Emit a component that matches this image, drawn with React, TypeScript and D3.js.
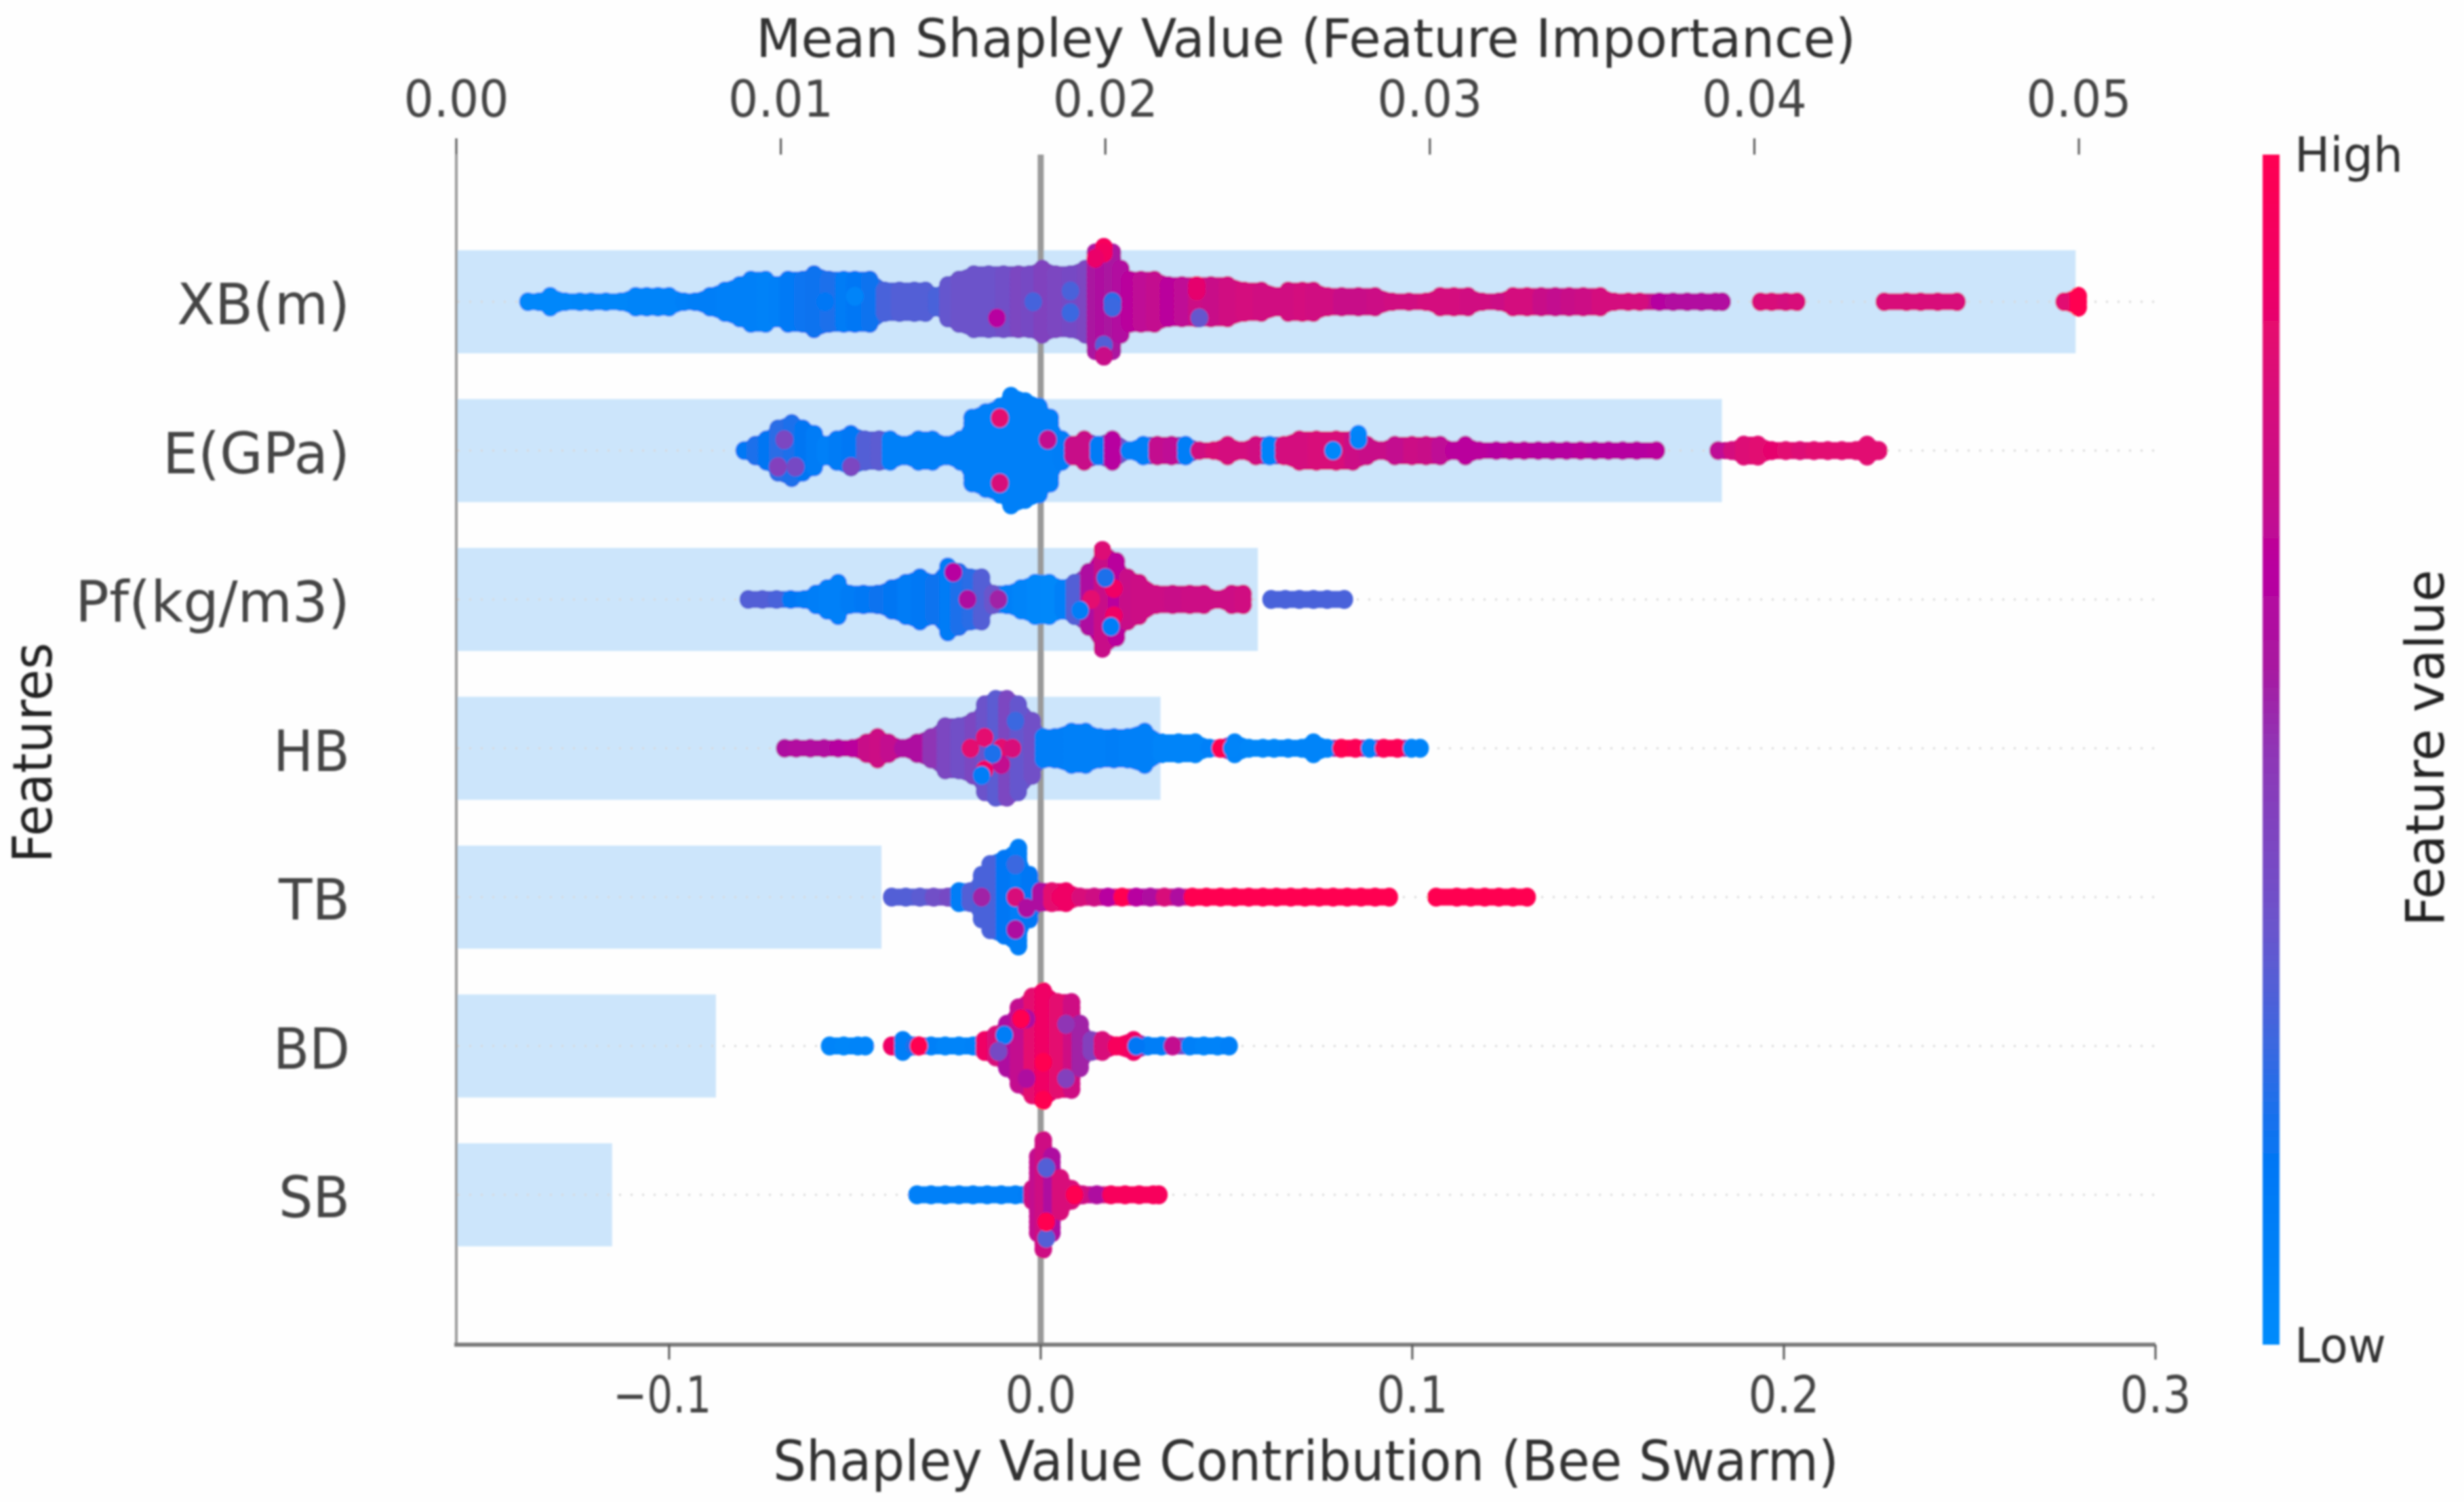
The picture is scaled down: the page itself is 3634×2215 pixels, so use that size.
import React from "react";
import * as d3 from "d3";

// Each swarm column: [Shapley value, dots stacked each side of the row, feature value 0..1]
const xbColumns = [
[-.138,0,.03],[-.135,0,.03],[-.132,1,.03],[-.128,0,.03],[-.124,0,.04],[-.121,0,.04],[-.117,0,.04],[-.113,0,.04],[-.109,1,.05],[-.106,1,.05],[-.103,1,.05],[-.1,1,.06],[-.096,0,.08],[-.093,0,.1],[-.089,1,.1],[-.085,2,.08],[-.081,3,.08],[-.078,4,.08],[-.074,4,.07],[-.071,3,.08],[-.068,4,.13],[-.064,4,.17],[-.061,5,.18],[-.057,4,.2],[-.053,4,.12],[-.05,4,.15],[-.046,4,.18],[-.042,2,.28],[-.038,2,.3],[-.034,2,.3],[-.031,2,.3],[-.028,1,.28],[-.025,3,.34],[-.022,4,.36],[-.018,5,.36],[-.014,5,.36],[-.01,5,.38],[-.006,5,.42],[-.003,5,.4],[.0004,6,.44],[.004,5,.42],[.008,5,.4],[.012,6,.42],[.0147,9,.58],[.017,10,.6],[.0193,9,.58],[.0216,6,.62],[.024,4,.66],[.027,4,.68],[.0306,4,.7],[.0344,3,.66],[.038,3,.68],[.042,3,.74],[.0458,3,.72],[.0503,3,.76],[.0548,2,.78],[.0594,2,.76],[.064,1,.76],[.0666,2,.76],[.0704,2,.78],[.0734,2,.76],[.0772,1,.76],[.081,1,.72],[.0855,1,.72],[.09,1,.74],[.0946,0,.76],[.0991,0,.76],[.1037,0,.78],[.1075,1,.78],[.1112,1,.78],[.115,1,.76],[.1188,0,.76],[.1233,0,.74],[.1271,1,.78],[.1309,1,.78],[.1347,1,.72],[.1385,1,.7],[.1422,1,.72],[.146,1,.74],[.1506,1,.78],[.1543,0,.78],[.1581,0,.78],[.1612,0,.78],
[.1665,0,.64],[.1702,0,.62],[.174,0,.62],[.1778,0,.62],[.1816,0,.62],[.1834,0,.62],
[.1937,0,.8],[.1967,0,.8],[.2005,0,.78],[.2035,0,.8],
[.227,0,.8],[.233,0,.8],[.2368,0,.8],[.2414,0,.8],[.2466,0,.8],
[.2754,0,.84],[.2792,1,1],
];
const xbAccents = [[.017,10,.95],[.017,9,.92],[.0147,8,.88],[.0193,0,.22],[.0193,-1,.25],[.008,2,.28],[.008,-2,.25],[-.002,0,.27],[-.0118,-3,.65],[.042,3,.86],[.042,2,.86],[.0427,-3,.34],[.017,-8,.3],[.017,-10,.72],[-.058,0,.15],[-.05,1,.05]];

const eColumns = [
[-.0798,0,.14],[-.0768,1,.2],[-.0738,2,.16],[-.0707,4,.22],[-.067,5,.2],[-.064,4,.16],[-.0609,3,.12],[-.0579,1,.08],[-.0549,2,.12],[-.0511,3,.14],[-.0473,2,.3],[-.0435,2,.32],[-.0405,2,.08],[-.0367,1,.08],[-.0329,2,.08],[-.0291,2,.08],[-.0254,1,.08],[-.0216,2,.08],[-.0185,6,.08],[-.0148,7,.08],[-.011,8,.08],[-.008,10,.08],[-.0042,9,.08],[-.0004,8,.08],[.0026,6,.08],[.0057,2,.1],[.0087,1,.72],[.0117,2,.72],[.0155,1,.12],[.0193,2,.65],[.0238,0,.08],[.0276,1,.08],[.0314,1,.7],[.0352,1,.68],[.039,1,.1],[.0427,0,.76],[.0465,0,.8],[.0503,1,.78],[.0541,0,.78],[.0579,1,.76],[.0616,1,.05],[.0654,1,.78],
[.0696,2,.78],[.0742,2,.8],[.0795,2,.8],[.084,2,.74],[.0878,1,.72],[.0916,0,.72],[.0953,1,.7],[.0999,1,.74],[.1037,1,.72],[.1075,1,.68],[.1112,0,.66],[.1143,1,.66],[.118,0,.66],[.1226,0,.64],[.1264,0,.66],[.1301,0,.66],[.1339,0,.64],[.1377,0,.64],[.1415,0,.64],[.1453,0,.66],[.1491,0,.64],[.1528,0,.64],[.1566,0,.64],[.1604,0,.64],[.1657,0,.66],
[.1823,0,.68],[.186,0,.78],[.1892,1,.82],[.193,1,.84],[.1967,0,.86],[.2005,0,.84],[.2043,0,.82],[.2081,0,.84],[.2118,0,.84],[.2156,0,.84],[.2194,0,.84],[.2224,1,.84],[.2255,0,.84],
];
const eAccents = [[-.011,6,.85],[-.011,-6,.8],[.0019,2,.7],[-.069,2,.42],[-.0707,-3,.45],[-.066,-3,.4],[-.051,-3,.42],[.0787,0,.03],[.0855,3,.03],[.0855,2,.05]];

const pfColumns = [
[-.0787,0,.3],[-.0749,0,.3],[-.0711,0,.28],[-.0673,0,.14],[-.0636,0,.12],[-.0605,1,.1],[-.0575,2,.08],[-.0545,3,.08],[-.0515,1,.12],[-.0477,1,.14],[-.0439,1,.18],[-.0401,2,.16],[-.0363,3,.12],[-.0325,4,.14],[-.0288,3,.18],[-.025,6,.12],[-.022,5,.2],[-.0189,4,.22],[-.0159,4,.3],[-.0129,1,.35],[-.0091,1,.08],[-.0053,2,.05],[-.0015,3,.03],[.0023,3,.02],[.006,2,.08],[.0091,3,.3],[.0129,5,.6],[.0166,9,.72],[.0204,7,.66],[.0234,4,.72],[.0265,3,.74],[.031,1,.74],[.0355,1,.72],[.0401,1,.74],[.0439,1,.74],[.0476,0,.74],[.0514,1,.74],[.0545,1,.76],
[.062,0,.28],[.0658,0,.28],[.0696,0,.28],[.0734,0,.28],[.0771,0,.28],[.0817,0,.28],
];
const pfAccents = [[-.0235,5,.65],[-.0197,0,.6],[-.0114,0,.55],[.0136,0,.85],[.0197,2,.9],[.0197,-3,.9],[.0189,-5,.1],[.0106,-2,.1],[.0174,4,.2],[.0166,9,.82]];

const hbColumns = [
[-.0689,0,.6],[-.0658,0,.62],[-.062,0,.62],[-.0583,0,.62],[-.0545,0,.64],[-.0507,0,.66],[-.0469,1,.72],[-.0439,2,.74],[-.0409,1,.7],[-.0371,0,.6],[-.0333,1,.6],[-.0295,2,.5],[-.0257,4,.42],[-.022,4,.38],[-.0182,5,.42],[-.0151,8,.36],[-.0121,9,.32],[-.0091,9,.42],[-.006,8,.34],[-.0023,5,.38],[.0007,2,.1],[.0038,2,.1],[.0083,3,.08],[.0121,3,.08],[.0159,2,.08],[.0197,2,.1],[.0234,2,.08],[.028,3,.08],[.0325,1,.05],[.0371,1,.05],[.0416,1,.05],[.0454,0,.08],[.0484,0,1],[.0522,1,.06],[.056,0,.04],[.0598,0,.04],[.0628,0,.04],
[.0666,0,.05],[.0703,0,.05],[.0734,1,.05],[.0771,0,.05],[.0809,0,1],[.0847,0,.98],[.0885,0,.07],[.0923,0,.98],[.096,0,.98],[.0998,0,.05],[.1021,0,.05],
];
const hbAccents = [[-.0151,2,.85],[-.0189,0,.85],[-.0106,0,.85],[-.0151,-4,.9],[-.0106,-3,.7],[-.0076,0,.8],[-.0159,-5,.1],[-.0129,-1,.2],[-.0068,5,.25],[.0514,0,.05]];

const tbColumns = [
[-.0401,0,.3],[-.0363,0,.3],[-.0325,0,.32],[-.0288,0,.38],[-.025,0,.4],[-.022,1,.1],[-.0189,1,.3],[-.0159,4,.28],[-.0136,6,.28],[-.0098,7,.15],[-.006,9,.1],[-.003,4,.15],[0,1,.6],[.003,1,.85],[.0068,1,.9],[.0106,0,.8],[.0144,0,.75],[.0181,0,.65],[.0219,0,1],[.0257,0,.65],[.0295,0,.6],[.0333,0,.8],[.0371,0,.6],[.0408,0,1],[.0446,0,1],[.0484,0,1],[.0522,0,1],[.056,0,1],[.0598,0,1],[.0635,0,1],[.0673,0,1],[.0711,0,1],[.0749,0,1],[.0787,0,1],[.0825,0,1],[.0862,0,1],[.09,0,1],[.0938,0,1],
[.1064,0,1],[.112,0,1],[.1157,0,1],[.1195,0,1],[.1233,0,1],[.1271,0,1],[.1309,0,1],
];
const tbAccents = [[-.0068,0,.8],[-.0068,-6,.6],[-.0038,-2,.6],[-.0159,0,.55],[-.0068,6,.25],[.0053,0,.9]];

const bdColumns = [
[-.0568,0,.05],[-.053,0,.04],[-.0492,0,.05],[-.0472,0,.05],
[-.0401,0,.9],[-.0371,1,.1],[-.034,0,.2],[-.0328,0,1],[-.0295,0,.08],[-.0257,0,.05],[-.022,0,.05],[-.0182,0,.07],[-.0151,1,.9],[-.0121,2,.8],[-.0091,4,.6],[-.006,7,.7],[-.0023,9,.85],[.0007,10,.9],[.0045,8,.85],[.0083,8,.75],[.0106,4,.55],[.0136,1,.45],[.0166,1,.8],[.0204,0,.95],[.025,1,.9],[.0288,0,.1],[.0325,0,.1],[.0355,0,.7],
[.0401,0,.08],[.0439,0,.06],[.0476,0,.06],[.0507,0,.08],
];
const bdAccents = [[-.0098,2,.1],[-.0114,-1,.4],[-.0038,5,.6],[.0007,-3,1],[-.0038,-6,.6],[.0068,-6,.45],[.0068,4,.5],[.0007,-10,1],[-.0053,5,1],[.0257,0,.15],[-.0328,0,1]];

const sbColumns = [
[-.0333,0,.08],[-.0295,0,.08],[-.0257,0,.08],[-.022,0,.08],[-.0182,0,.08],[-.0144,0,.08],[-.0106,0,.08],[-.0068,0,.08],[-.0038,0,.1],[-.0023,1,.75],[-.0008,7,.7],[.0007,10,.75],[.003,7,.6],[.0053,3,.8],[.0083,1,.8],[.0113,0,.75],[.0151,0,.6],[.0189,0,.95],[.0227,0,.95],[.0265,0,.95],[.0303,0,.95],[.0318,0,.95],
];
const sbAccents = [[.0015,5,.3],[.0015,-8,.3],[.0015,-5,1],[.0091,0,1]];

const features = ["XB(m)", "E(GPa)", "Pf(kg/m3)", "HB", "TB", "BD", "SB"];
const importance = [0.0499, 0.039, 0.0247, 0.0217, 0.0131, 0.008, 0.0048];
const swarms = [xbColumns, eColumns, pfColumns, hbColumns, tbColumns, bdColumns, sbColumns];
const accents = [xbAccents, eAccents, pfAccents, hbAccents, tbAccents, bdAccents, sbAccents];
const labelWidths = [255, 276, 405, 113, 105, 113, 105];

const bottomTicks = [-0.1, 0, 0.1, 0.2, 0.3];
const topTicks = [0, 0.01, 0.02, 0.03, 0.04, 0.05];

const colorStops = ["#008bfb", "#0077f5", "#3a68e0", "#6a55cc", "#8f35b5", "#a818a0", "#b800a0", "#c81088", "#d8107a", "#f00065", "#ff0051"];
const stopAt = [0, 0.15, 0.25, 0.35, 0.5, 0.57, 0.65, 0.72, 0.8, 0.9, 1];

const W = 3634, H = 2215;
const font = "'DejaVu Sans', sans-serif";

export default function App() {
  const x = d3.scaleLinear().domain([-0.1569, 0.3]).range([675, 3179]);
  const xTop = d3.scaleLinear().domain([0, 0.05]).range([673, 3066]);
  const y = d3.scalePoint<string>().domain(features).range([445, 1762]);
  const color = d3.scaleLinear<string>().domain(stopAt).range(colorStops).interpolate(d3.interpolateRgb);
  const step = 8;
  const rx = 13, ry = 14;
  const barH = 152;
  const axisTop = 228, axisBottom = 1983;
  const touching = 0.0062; // neighbouring columns closer than this read as one solid swarm

  const halfOf = (rows: number) => ry - 1.5 + rows * step;
  const band = d3.area<number[]>()
    .x((c) => x(c[0]))
    .y0((c) => -halfOf(c[1]))
    .y1((c) => halfOf(c[1]));

  const fills: React.ReactElement[] = [];
  const dots: React.ReactElement[] = [];
  swarms.forEach((cols, fi) => {
    const cy = y(features[fi])!;
    d3.pairs(cols).forEach(([a, b], pi) => {
      if (b[0] - a[0] < touching) {
        fills.push(
          <path key={`f${fi}-${pi}`} transform={`translate(0,${cy})`} d={band([a, b])!} fill={color((a[2] + b[2]) / 2)} />
        );
      }
    });
    cols.forEach((c, ci) => {
      const [v, rows, fv] = c;
      for (const k of d3.range(-rows, rows + 1)) {
        dots.push(<ellipse key={`${fi}-${ci}-${k}`} cx={x(v)} cy={cy - k * step} rx={rx} ry={ry} fill={color(fv)} />);
      }
    });
    accents[fi].forEach((a, ai) => {
      dots.push(<ellipse key={`a${fi}-${ai}`} cx={x(a[0])} cy={cy - a[1] * step} rx={rx} ry={ry} fill={color(a[2])} />);
    });
  });

  return (
    <svg width={W} height={H} viewBox={`0 0 ${W} ${H}`} style={{ position: "absolute", left: 0, top: 0, background: "#fefefe" }} fontFamily={font}>
      <defs>
        <linearGradient id="cb" x1="0" y1="1" x2="0" y2="0">
          {stopAt.map((s, i) => <stop key={i} offset={s} stopColor={colorStops[i]} />)}
        </linearGradient>
        <filter id="soft" x="0" y="0" width="100%" height="100%" filterUnits="userSpaceOnUse" primitiveUnits="userSpaceOnUse">
          <feGaussianBlur stdDeviation="1.6" />
        </filter>
      </defs>
      <g filter="url(#soft)">
        {features.map((f, i) => (
          <rect key={f} x={xTop(0)} y={y(f)! - barH / 2} width={xTop(importance[i]) - xTop(0)} height={barH} fill="#cce5fb" />
        ))}
        {features.map((f) => (
          <line key={f} x1={x(-0.1569)} x2={x(0.3)} y1={y(f)} y2={y(f)} stroke="#d8d8d8" strokeWidth={3} strokeDasharray="3 14" />
        ))}
        <line x1={xTop(0)} x2={xTop(0)} y1={axisTop} y2={axisBottom} stroke="#999" strokeWidth={4} />
        <line x1={x(0)} x2={x(0)} y1={axisTop} y2={axisBottom} stroke="#999" strokeWidth={9} />
        {fills}
        {dots}
        <line x1={670} x2={x(0.3)} y1={axisBottom} y2={axisBottom} stroke="#7a7a7a" strokeWidth={6} />
        {topTicks.map((t) => (
          <g key={t}>
            <line x1={xTop(t)} x2={xTop(t)} y1={204} y2={axisTop} stroke="#555" strokeWidth={3} />
            <text x={xTop(t)} y={172} fontSize={74} fill="#444" textAnchor="middle" textLength={155} lengthAdjust="spacingAndGlyphs">{t.toFixed(2)}</text>
          </g>
        ))}
        {bottomTicks.map((t) => (
          <g key={t}>
            <line x1={x(t)} x2={x(t)} y1={axisBottom} y2={2005} stroke="#555" strokeWidth={3} />
            <text x={x(t) - (t < 0 ? 10 : 0)} y={2083} fontSize={74} fill="#444" textAnchor="middle" textLength={t < 0 ? 145 : 105} lengthAdjust="spacingAndGlyphs">{(t < 0 ? "\u2212" : "") + Math.abs(t).toFixed(1)}</text>
          </g>
        ))}
        {features.map((f, i) => (
          <text key={f} x={516} y={y(f)! + 33} fontSize={84} fill="#444" textAnchor="end" textLength={labelWidths[i]} lengthAdjust="spacingAndGlyphs">{f}</text>
        ))}
        <text x={1926} y={84} fontSize={78} fill="#333" textAnchor="middle" textLength={1622} lengthAdjust="spacingAndGlyphs">Mean Shapley Value (Feature Importance)</text>
        <text x={1926} y={2183} fontSize={82} fill="#333" textAnchor="middle" textLength={1572} lengthAdjust="spacingAndGlyphs">Shapley Value Contribution (Bee Swarm)</text>
        <text transform="translate(76,1110) rotate(-90)" fontSize={80} fill="#222" textAnchor="middle" textLength={325} lengthAdjust="spacingAndGlyphs">Features</text>
        <rect x={3337} y={axisTop} width={25} height={axisBottom - axisTop} fill="url(#cb)" />
        <text x={3384} y={253} fontSize={72} fill="#333" textLength={160} lengthAdjust="spacingAndGlyphs">High</text>
        <text x={3384} y={2009} fontSize={72} fill="#333" textLength={135} lengthAdjust="spacingAndGlyphs">Low</text>
        <text transform="translate(3604,1103) rotate(-90)" fontSize={78} fill="#222" textAnchor="middle" textLength={526} lengthAdjust="spacingAndGlyphs">Feature value</text>
      </g>
    </svg>
  );
}
